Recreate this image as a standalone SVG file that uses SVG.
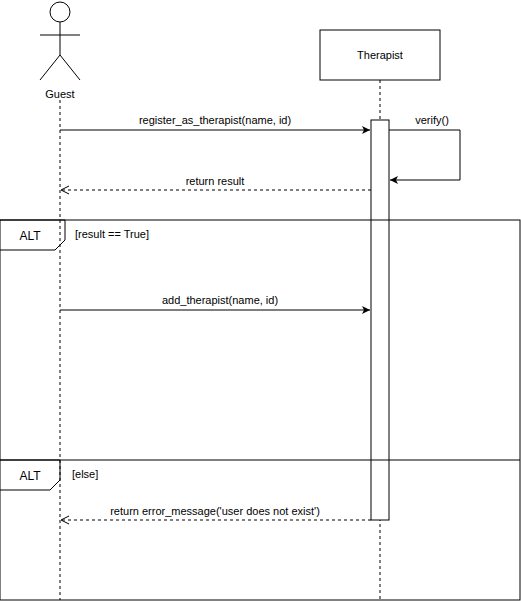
<svg xmlns="http://www.w3.org/2000/svg" width="521" height="602" viewBox="0 0 521 602">
<style>
text{font-family:"Liberation Sans",Arial,sans-serif;font-size:11px;fill:#000}
.l{stroke:#000;fill:none}
.d{stroke:#000;fill:none;stroke-dasharray:3,3}
</style>
<defs>
<marker id="f" markerWidth="10" markerHeight="10" refX="9" refY="5" orient="auto" markerUnits="userSpaceOnUse"><path d="M1,1 L9,5 L1,9 L3,5 z" fill="#000"/></marker>
<marker id="o" markerWidth="10" markerHeight="10" refX="9" refY="5" orient="auto" markerUnits="userSpaceOnUse"><path d="M1,1 L9,5 L1,9" fill="none" stroke="#000"/></marker>
</defs>
<rect width="521" height="602" fill="#fff"/>
<g id="guest">
<circle cx="60" cy="12" r="10" fill="#fff" stroke="#000"/>
<path class="l" d="M60,22 V55 M40,35 H80 M60,55 L40,80 M60,55 L80,80"/>
<text x="60" y="98" text-anchor="middle">Guest</text>
<path class="d" d="M60,100 V600"/>
</g>
<g id="therapist">
<rect x="320" y="30" width="120" height="50" fill="#fff" stroke="#000"/>
<text x="380" y="59" text-anchor="middle">Therapist</text>
<path class="d" d="M380,80 V600"/>
<rect x="371" y="120" width="18" height="400" fill="#fff" stroke="#000"/>
</g>
<g id="alt">
<rect x="0" y="220" width="520" height="380" fill="none" stroke="#000"/>
<path class="l" d="M0,220 H65 V240 L55,250 H0"/>
<text x="30" y="240" text-anchor="middle" style="font-size:12px">ALT</text>
<text x="75" y="238">[result == True]</text>
<path class="l" d="M0,460 H520"/>
<path class="l" d="M0,460 H60 V480 L50,490 H0"/>
<text x="30" y="480" text-anchor="middle" style="font-size:12px">ALT</text>
<text x="72" y="478">[else]</text>
</g>
<g id="connectors">
<path class="l" d="M60,130 H370" marker-end="url(#f)"/>
<text x="215" y="124" text-anchor="middle">register_as_therapist(name, id)</text>
<path class="l" d="M389,130 H460 V180 H390" marker-end="url(#f)"/>
<text x="432" y="124" text-anchor="middle">verify()</text>
<path class="d" d="M371,190 H61" marker-end="url(#o)"/>
<text x="215" y="185" text-anchor="middle">return result</text>
<path class="l" d="M60,310 H370" marker-end="url(#f)"/>
<text x="220" y="304" text-anchor="middle">add_therapist(name, id)</text>
<path class="d" d="M371,520 H61" marker-end="url(#o)"/>
<text x="215" y="515" text-anchor="middle">return error_message('user does not exist')</text>
</g>
</svg>
